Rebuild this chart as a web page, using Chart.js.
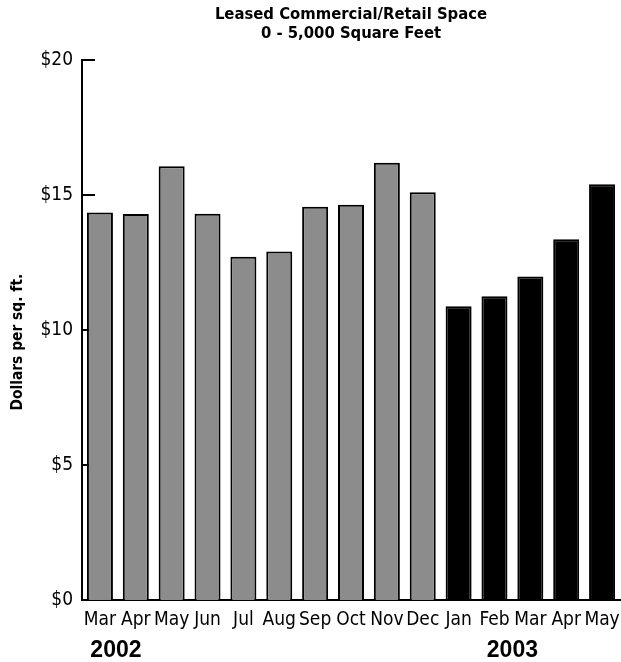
<!DOCTYPE html>
<html>
<head>
<meta charset="utf-8">
<script src="https://cdn.jsdelivr.net/npm/chart.js@4.4.1/dist/chart.umd.min.js"></script>
<style>
  html, body { margin: 0; padding: 0; background: #fff; }
  #wrap { width: 621px; height: 662px; }
</style>
</head>
<body>
<div id="wrap"><canvas id="leaseChart" width="621" height="662"></canvas></div>
<script>
// Leased commercial/retail space, 0 - 5,000 sq ft, dollars per sq. ft.
const months2002 = ['Mar', 'Apr', 'May', 'Jun', 'Jul', 'Aug', 'Sep', 'Oct', 'Nov', 'Dec'];
const months2003 = ['Jan', 'Feb', 'Mar', 'Apr', 'May'];
const values2002 = [14.36, 14.30, 16.07, 14.31, 12.72, 12.91, 14.57, 14.65, 16.20, 15.11];
const values2003 = [10.89, 11.26, 11.99, 13.37, 15.41];
const yTicks = [0, 5, 10, 15, 20];
const titleLines = ['Leased Commercial/Retail Space', '0 - 5,000 Square Feet'];
const yTitle = 'Dollars per sq. ft.';

const NARROW = '"DejaVu Sans Condensed", "Liberation Sans Narrow", sans-serif';
const GRAY = '#8c8c8c';

const labels = months2002.concat(months2003);
const values = values2002.concat(values2003);
const fills = months2002.map(() => GRAY).concat(months2003.map(() => '#000'));

// inward tick marks, y axis title and the year captions
const extras = {
    id: 'extras',
    beforeDatasetsDraw: function(chart) {
        const ctx = chart.ctx;
        const y = chart.scales.y;
        ctx.save();
        ctx.strokeStyle = '#000';
        ctx.lineWidth = 2;
        yTicks.forEach(v => {
            const py = Math.round(y.getPixelForValue(v));
            ctx.beginPath();
            ctx.moveTo(y.right, py);
            ctx.lineTo(y.right + 13, py);
            ctx.stroke();
        });
        ctx.restore();
    },
    afterDraw: function(chart) {
        const ctx = chart.ctx;
        const x = chart.scales.x;
        const area = chart.chartArea;
        ctx.save();
        ctx.fillStyle = '#000';

        // y title
        ctx.translate(18, area.top + (area.bottom - area.top) / 2 + 12);
        ctx.rotate(-Math.PI / 2);
        ctx.font = 'bold 15.4px ' + NARROW;
        ctx.textAlign = 'center';
        ctx.textBaseline = 'middle';
        ctx.fillText(yTitle, 0, 0);
        ctx.setTransform(1, 0, 0, 1, 0, 0);

        // year captions under the month labels
        ctx.font = 'bold 23px "Liberation Sans", Arial, sans-serif';
        ctx.textBaseline = 'alphabetic';
        const first03 = months2002.length;
        ctx.fillText('2002', x.getPixelForValue(0) + 16, 657);
        ctx.fillText('2003', (x.getPixelForValue(first03 + 1) + x.getPixelForValue(first03 + 2)) / 2, 657);
        ctx.restore();
    }
};

new Chart(document.getElementById('leaseChart'), {
    type: 'bar',
    data: {
        labels: labels,
        datasets: [{
            data: values,
            backgroundColor: fills,
            borderColor: '#000',
            borderWidth: 2,
            barPercentage: 0.725,
            categoryPercentage: 1
        }]
    },
    options: {
        responsive: false,
        animation: false,
        layout: { padding: { right: 1 } },
        plugins: {
            legend: { display: false },
            tooltip: { enabled: false },
            title: {
                display: true,
                fullSize: false,
                text: titleLines,
                color: '#000',
                font: { family: NARROW, size: 16.5, weight: 'bold', lineHeight: 1.1 },
                padding: { top: 6, bottom: 18 }
            }
        },
        scales: {
            x: {
                grid: { display: false, drawTicks: false },
                border: { display: true, color: '#000', width: 2 },
                ticks: {
                    color: '#000',
                    autoSkip: false,
                    maxRotation: 0,
                    padding: 9,
                    font: { family: NARROW, size: 19 }
                },
                afterFit: function(scale) {
                    scale.height = 62;
                    // the last label may run to the canvas edge
                    scale.paddingLeft = 0;
                    scale.paddingRight = 0;
                }
            },
            y: {
                min: 0,
                max: 20,
                grid: { display: false, drawTicks: false },
                border: { display: true, color: '#000', width: 2 },
                ticks: {
                    stepSize: 5,
                    color: '#000',
                    padding: 9,
                    font: { family: NARROW, size: 19 },
                    callback: v => '$' + v
                },
                afterFit: function(scale) { scale.width = 82; }
            }
        }
    },
    plugins: [extras]
});
</script>
</body>
</html>
